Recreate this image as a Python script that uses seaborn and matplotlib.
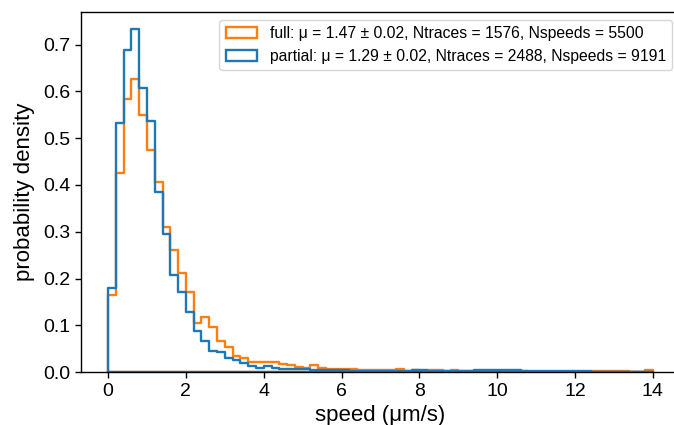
import numpy as np
import pandas as pd
import matplotlib
matplotlib.use("Agg")
import matplotlib.pyplot as plt
import seaborn as sns
from matplotlib.patches import Patch

# bin edges: 0 .. 14 in steps of 0.2
bin_width = 0.2
n_bins = 70

# probability density per bin
full_density = [
    0.166, 0.426, 0.583, 0.626, 0.550, 0.475, 0.407, 0.310, 0.262, 0.213,
    0.171, 0.105, 0.119, 0.096, 0.066, 0.053, 0.035, 0.030, 0.021, 0.023,
    0.023, 0.023, 0.018, 0.016, 0.012, 0.009, 0.015, 0.009, 0.008, 0.007,
    0.006, 0.007, 0.005, 0.005, 0.004, 0.005, 0.004, 0.006, 0.003, 0.004,
    0.003, 0.004, 0.004, 0.003, 0.004, 0.003, 0.002, 0.002, 0.003, 0.002,
    0.001, 0.002, 0.001, 0.002, 0.001, 0.001, 0.001, 0.001, 0.001, 0.001,
    0.001, 0.001, 0.002, 0.002, 0.002, 0.002, 0.002, 0.001, 0.001, 0.004,
]
partial_density = [
    0.180, 0.533, 0.689, 0.733, 0.608, 0.537, 0.384, 0.296, 0.207, 0.171,
    0.128, 0.089, 0.066, 0.046, 0.044, 0.030, 0.026, 0.019, 0.014, 0.010,
    0.014, 0.009, 0.008, 0.007, 0.006, 0.006, 0.005, 0.005, 0.004, 0.004,
    0.004, 0.003, 0.003, 0.003, 0.003, 0.002, 0.002, 0.002, 0.002, 0.004,
    0.004, 0.003, 0.002, 0.002, 0.002, 0.002, 0.002, 0.004, 0.004, 0.004,
    0.004, 0.004, 0.004, 0.003, 0.003, 0.002, 0.002, 0.002, 0.002, 0.002,
    0.002, 0.002, 0.001, 0.001, 0.001, 0.001, 0.001, 0.001, 0.001, 0.001,
]
labels = [
    "full: μ = 1.47 ± 0.02, Ntraces = 1576, Nspeeds = 5500",
    "partial: μ = 1.29 ± 0.02, Ntraces = 2488, Nspeeds = 9191",
]
colors = ["#ff7f0e", "#1f77b4"]

centers = (np.arange(n_bins) + 0.5) * bin_width

sns.set_style("ticks")
plt.rcParams['font.family'] = ['Liberation Sans', 'DejaVu Sans']
plt.rcParams.update({
    "text.color": "black",
    "axes.labelcolor": "black",
    "xtick.color": "black",
    "ytick.color": "black",
    "xtick.labelcolor": "black",
    "ytick.labelcolor": "black",
})

fig, ax = plt.subplots(figsize=(6.74, 4.25), dpi=100)

for dens, col in zip([full_density, partial_density], colors):
    df = pd.DataFrame({"speed": centers, "w": dens})
    sns.histplot(data=df, x="speed", weights="w", binwidth=bin_width,
                 binrange=(0, n_bins * bin_width), stat="count",
                 element="step", fill=True, color=col,
                 facecolor=(0, 0, 0, 0), edgecolor=col,
                 linewidth=1.7, ax=ax)

ax.set_xlabel("speed (μm/s)", fontsize=16)
ax.set_ylabel("probability density", fontsize=16, labelpad=6)
ax.tick_params(labelsize=14, length=4, width=1, color="black", labelcolor="black")
for s in ax.spines.values():
    s.set_visible(True)
    s.set_linewidth(1.0)
    s.set_color("black")

handles = [Patch(facecolor="none", edgecolor=c, linewidth=1.7) for c in colors]
ax.legend(handles, labels, loc="upper right", fontsize=11.3)

fig.subplots_adjust(left=0.120, right=1.009, top=0.972, bottom=0.124)
fig.savefig("out.png", dpi=100)
